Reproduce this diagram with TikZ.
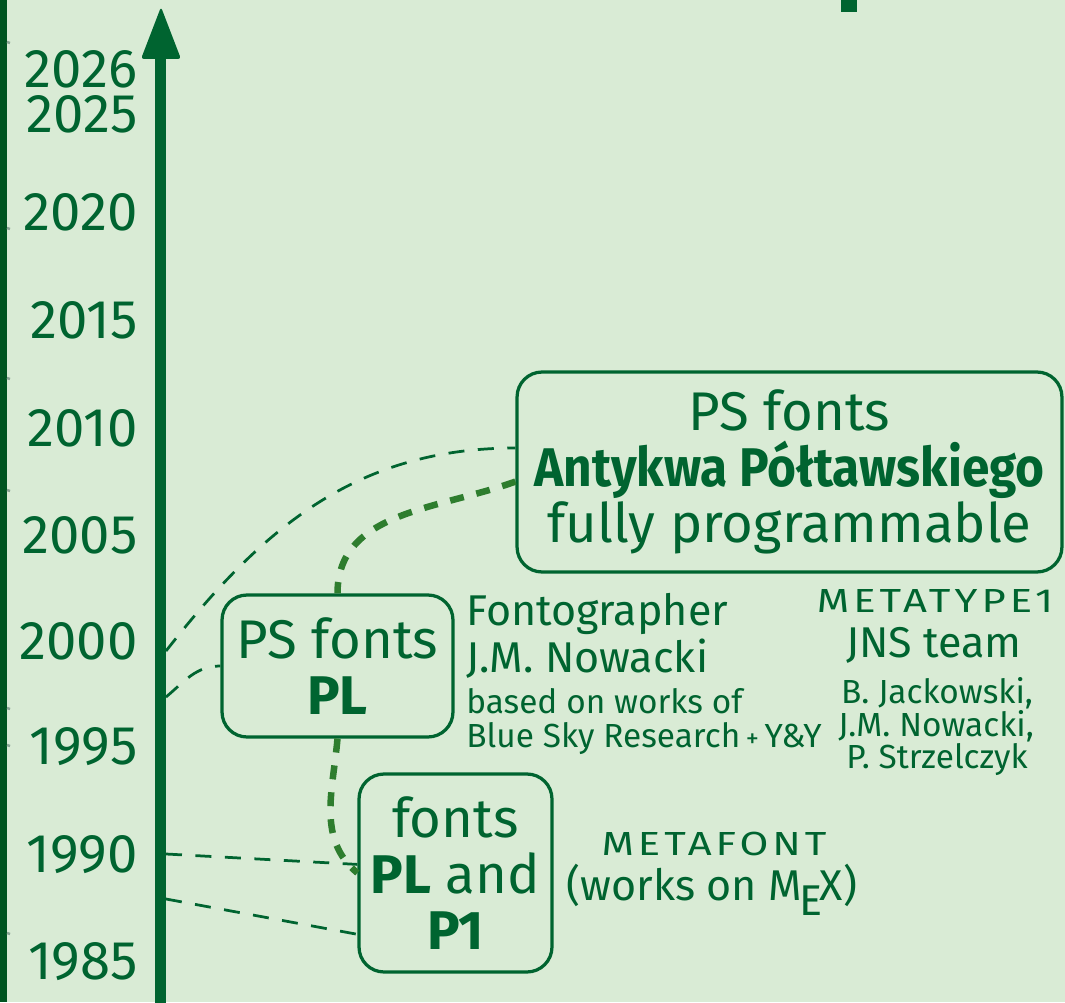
\documentclass[tikz,border=0pt]{standalone}
\usepackage{fontspec}
\setmainfont{Fira Sans}
\newfontfamily\condfont{Fira Sans}[FakeStretch=0.91]
\newfontfamily\capsfont{Fira Sans}[FakeStretch=1.25, LetterSpace=12]
\definecolor{bg}{RGB}{217,235,213}
\definecolor{gustgreen}{RGB}{0,100,48}
\definecolor{bargreen}{RGB}{0,84,32}
\definecolor{dashgreen}{RGB}{46,125,46}
\definecolor{tickgrey}{RGB}{140,165,150}
\newcommand{\yrfont}{\fontsize{31}{32}\selectfont}
\newcommand{\sidefont}{\fontsize{24.5}{26.6}\selectfont}
\newcommand{\notefont}{\fontsize{19}{19.8}\selectfont}
\newcommand{\mexlogo}{M\kern-.06em\lower.35em\hbox{E}\kern-.06em X}
\begin{document}
\begin{tikzpicture}[x=0.02cm, y=0.02cm,
    year/.style={anchor=east, inner sep=0pt, text=gustgreen, font=\yrfont},
    fontbox/.style={draw=gustgreen, line width=0.065cm, rounded corners=0.5cm,
        inner sep=0pt, align=center, text=gustgreen, font=\yrfont},
    side/.style={inner sep=0pt, text=gustgreen, font=\sidefont},
    note/.style={inner sep=0pt, text=gustgreen, font=\notefont},
    thindash/.style={draw=gustgreen, line width=0.055cm, dash pattern=on 0.32cm off 0.27cm},
    thickdash/.style={draw=dashgreen, line width=0.13cm, dash pattern=on 0.28cm off 0.26cm}]
    \useasboundingbox (0,0) rectangle (1065,1002);
    \fill[bg] (0,0) rectangle (1065,1002);
    \fill[bargreen] (0,0) rectangle (7,1002);
    \foreach \t in {960,774,624,512,294,257,69}
    \draw[tickgrey, line width=0.05cm] (7,\t) -- (10,\t-1);
    \fill[gustgreen] (841,990) rectangle (857,1002);
    \draw[gustgreen, line width=0.22cm] (160.5,-10) -- (160.5,946);
    \fill[gustgreen, rounded corners=0.06cm] (141,943) -- (161,995) -- (181,943) -- cycle;
    \coordinate (t1) at (166,351);
    \coordinate (t2) at (166,305);
    \coordinate (t3) at (166,148);
    \coordinate (t4) at (166,103);
    \foreach \yr/\yy in {2026/933,2025/888,2020/790,2015/682,2010/574,
        2005/467,2000/361,1995/255,1990/147,1985/40}
    \node[year] (y\yr) at (138,\yy) {\yr};
    \node[fontbox, minimum width=10.9cm, minimum height=4cm] (pstop) at (789.5,530)
        {PS fonts\\{\condfont\bfseries Antykwa Półtawskiego}\\fully programmable};
    \node[fontbox, minimum width=4.62cm, minimum height=2.84cm] (pspl) at (337.5,336)
        {PS fonts\\\textbf{PL}};
    \node[fontbox, minimum width=3.86cm, minimum height=3.96cm] (mfpl) at (455.5,129)
        {fonts\\\textbf{PL} and\\\textbf{P1}};
    \node[side, anchor=base west] (fgr) at (466,377) {Fontographer};
    \node[side, anchor=base west] (jmn) at (466,330) {J.M. Nowacki};
    \node[note, anchor=base west] (bow) at (466,289) {based on works of};
    \node[note, anchor=base west] (bsr) at (466,255)
        {Blue Sky Research\,{\fontsize{15}{15}\selectfont+}\,Y\&Y};
    \node[note, anchor=base] (mt1) at (935,390) {\capsfont METATYPE1};
    \node[side, anchor=base] (jns) at (934,345) {JNS team};
    \node[note, anchor=base] (bj) at (937,299) {B. Jackowski,};
    \node[note, anchor=base] (jn) at (936,266) {J.M. Nowacki,};
    \node[note, anchor=base] (ps) at (937,234) {P. Strzelczyk};
    \node[note, anchor=base] (mf) at (714,147) {\capsfont METAFONT};
    \node[side, anchor=base] (wom) at (712,102) {(works on \mexlogo)};
    \draw[thindash] (t1) to[out=52,in=180] (pstop.175);
    \draw[thindash] (t2) to[out=40,in=180] (pspl.west);
    \draw[thindash] (t3) -- (mfpl.175);
    \draw[thindash] (t4) -- (mfpl.212);
    \draw[thickdash] (pstop.182) to[out=200,in=90] (pspl.north);
    \draw[thickdash] (pspl.south) to[out=-95,in=140] (mfpl.west);
\end{tikzpicture}
\end{document}
